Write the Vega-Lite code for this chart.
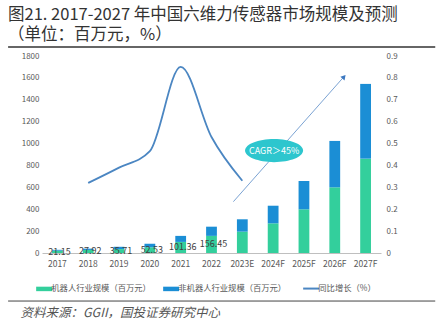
{
  "$schema": "https://vega.github.io/schema/vega-lite/v6.json",
  "width": 339,
  "height": 197,
  "autosize": {"type": "none"},
  "padding": {"left": 42, "top": 56, "right": 61, "bottom": 74},
  "background": "white",
  "title": {
    "text": "图21. 2017-2027 年中国六维力传感器市场规模及预测",
    "subtitle": "（单位：百万元，%）",
    "anchor": "start",
    "frame": "group",
    "dx": -34,
    "offset": 3,
    "fontSize": 16.5,
    "font": "Noto Sans CJK SC",
    "fontWeight": "normal",
    "color": "#333333",
    "subtitleFont": "Noto Sans CJK SC",
    "subtitleFontSize": 16.5,
    "subtitleColor": "#333333",
    "subtitlePadding": 3
  },
  "config": {
    "view": {"stroke": null},
    "font": "Noto Sans CJK SC",
    "axis": {"grid": false, "labelFont": "Noto Sans CJK SC", "labelColor": "#595959", "ticks": false, "labelOverlap": false}
  },
  "datasets": {
    "bars": [
      {"year": "2017", "series": "机器人行业规模（百万元）", "value": 21.15},
      {"year": "2018", "series": "机器人行业规模（百万元）", "value": 27.92},
      {"year": "2019", "series": "机器人行业规模（百万元）", "value": 35.71},
      {"year": "2020", "series": "机器人行业规模（百万元）", "value": 52.53},
      {"year": "2021", "series": "机器人行业规模（百万元）", "value": 101.36},
      {"year": "2022", "series": "机器人行业规模（百万元）", "value": 156.45},
      {"year": "2023E", "series": "机器人行业规模（百万元）", "value": 195},
      {"year": "2024F", "series": "机器人行业规模（百万元）", "value": 271},
      {"year": "2025F", "series": "机器人行业规模（百万元）", "value": 399},
      {"year": "2026F", "series": "机器人行业规模（百万元）", "value": 600},
      {"year": "2027F", "series": "机器人行业规模（百万元）", "value": 862},
      {"year": "2017", "series": "非机器人行业规模（百万元）", "value": 8},
      {"year": "2018", "series": "非机器人行业规模（百万元）", "value": 12},
      {"year": "2019", "series": "非机器人行业规模（百万元）", "value": 21},
      {"year": "2020", "series": "非机器人行业规模（百万元）", "value": 32},
      {"year": "2021", "series": "非机器人行业规模（百万元）", "value": 55},
      {"year": "2022", "series": "非机器人行业规模（百万元）", "value": 84},
      {"year": "2023E", "series": "非机器人行业规模（百万元）", "value": 113},
      {"year": "2024F", "series": "非机器人行业规模（百万元）", "value": 161},
      {"year": "2025F", "series": "非机器人行业规模（百万元）", "value": 259},
      {"year": "2026F", "series": "非机器人行业规模（百万元）", "value": 424},
      {"year": "2027F", "series": "非机器人行业规模（百万元）", "value": 683}
    ],
    "growth": [
      {"year": "2018", "growth": 0.32},
      {"year": "2019", "growth": 0.39},
      {"year": "2020", "growth": 0.465},
      {"year": "2021", "growth": 0.85},
      {"year": "2022", "growth": 0.53},
      {"year": "2023E", "growth": 0.33}
    ]
  },
  "layer": [
    {
      "layer": [
        {
          "layer": [
            {
              "data": {"name": "bars"},
              "mark": {"type": "bar"},
              "encoding": {
                "x": {
                  "field": "year", "type": "ordinal", "sort": null,
                  "scale": {"paddingInner": 0.65, "paddingOuter": 0.325},
                  "axis": {
                    "title": "资料来源：GGII，国投证券研究中心",
                    "titleFont": "Noto Sans CJK SC",
                    "titleFontStyle": "italic",
                    "titleFontWeight": "normal",
                    "titleFontSize": 12.5,
                    "titleColor": "#555555",
                    "titleX": -22,
                    "titleY": 59,
                    "titleAlign": "left",
                    "titleAnchor": "start",
                    "titleBaseline": "middle",
                    "labelAngle": 0,
                    "labelFontSize": 8.5,
                    "labelPadding": 6,
                    "domainColor": "#BFBFBF",
                    "domainWidth": 1
                  }
                },
                "y": {
                  "field": "value", "type": "quantitative", "stack": "zero",
                  "scale": {"domain": [0, 1800], "nice": false},
                  "axis": {
                    "title": null, "values": [0, 200, 400, 600, 800, 1000, 1200, 1400, 1600, 1800],
                    "format": "d", "domain": false, "labelFontSize": 8, "labelPadding": 3, "orient": "left",
                    "labelOverlap": false, "labelFlush": false
                  }
                },
                "order": {"field": "series", "type": "nominal", "sort": "ascending"},
                "color": {
                  "field": "series", "type": "nominal",
                  "scale": {
                    "domain": ["机器人行业规模（百万元）", "非机器人行业规模（百万元）", "同比增长（%）"],
                    "range": ["#33CF9C", "#1B8ED5", "#4B86C2"]
                  },
                  "legend": {
                    "title": null,
                    "orient": "none",
                    "direction": "horizontal",
                    "legendX": -2,
                    "legendY": 228,
                    "labelFont": "Noto Sans CJK SC",
                    "labelFontSize": 8.3,
                    "labelColor": "#595959",
                    "labelOffset": 3,
                    "columnPadding": 12,
                    "symbolSize": 256,
                    "encode": {
                      "symbols": {
                        "update": {
                          "shape": {"signal": "datum.index === 2 ? 'stroke' : 'M-1,-0.28H1V0.28H-1Z'"},
                          "fill": {"signal": "datum.index === 0 ? '#33CF9C' : datum.index === 1 ? '#1B8ED5' : 'transparent'"},
                          "stroke": {"signal": "datum.index === 2 ? '#4B86C2' : 'transparent'"},
                          "strokeWidth": {"signal": "datum.index === 2 ? 2 : 0"},
                          "opacity": {"value": 1}
                        }
                      }
                    }
                  }
                }
              }
            },
            {
              "data": {"name": "bars"},
              "transform": [
                {"filter": "datum.series === '机器人行业规模（百万元）' && datum.value < 160"},
                {"calculate": "datum.value / 2", "as": "mid"}
              ],
              "mark": {"type": "text", "fontSize": 9, "color": "#404040", "dx": 2, "baseline": "middle"},
              "encoding": {
                "x": {"field": "year", "type": "ordinal", "sort": null},
                "y": {
                  "field": "mid", "type": "quantitative",
                  "axis": {
                    "title": null, "values": [0, 200, 400, 600, 800, 1000, 1200, 1400, 1600, 1800],
                    "format": "d", "domain": false, "labelFontSize": 8, "labelPadding": 3, "orient": "left",
                    "labelOverlap": false, "labelFlush": false
                  }
                },
                "text": {"field": "value", "type": "quantitative", "format": ".2f"}
              }
            }
          ]
        },
        {
          "data": {"name": "growth"},
          "mark": {"type": "line", "interpolate": "monotone", "strokeWidth": 1.8},
          "encoding": {
            "x": {"field": "year", "type": "ordinal", "sort": null},
            "y": {
              "field": "growth", "type": "quantitative",
              "scale": {"domain": [0, 0.9], "nice": false},
              "axis": {
                "title": null, "orient": "right", "values": [0, 0.1, 0.2, 0.3, 0.4, 0.5, 0.6, 0.7, 0.8, 0.9],
                "format": ".1~f", "domain": false, "labelFontSize": 8, "labelPadding": 5
              }
            },
            "color": {"datum": "同比增长（%）", "type": "nominal"}
          }
        }
      ],
      "resolve": {"scale": {"y": "independent"}}
    },
    {
      "data": {"values": [{}]},
      "layer": [
        {
          "mark": {"type": "rule", "color": "#333333", "strokeWidth": 1.5, "clip": false},
          "encoding": {
            "x": {"datum": -1.1, "type": "quantitative", "scale": {"domain": [0, 11], "nice": false, "zero": false}, "axis": null},
            "x2": {"datum": 12.76},
            "y": {"datum": 1883, "type": "quantitative", "scale": {"domain": [0, 1800], "nice": false}, "axis": null},
            "y2": {"datum": 1883}
          }
        },
        {
          "mark": {"type": "rule", "color": "#444444", "strokeWidth": 1, "clip": false},
          "encoding": {
            "x": {"datum": -1.1, "type": "quantitative"},
            "x2": {"datum": 12.76},
            "y": {"datum": -439, "type": "quantitative"},
            "y2": {"datum": -439}
          }
        },
        {
          "mark": {"type": "rule", "color": "#7BA3D3", "strokeWidth": 1},
          "encoding": {
            "x": {"datum": 6.21, "type": "quantitative"},
            "x2": {"datum": 9.78},
            "y": {"datum": 469, "type": "quantitative"},
            "y2": {"datum": 1605}
          }
        },
        {
          "mark": {"type": "point", "shape": "triangle-up", "filled": true, "color": "#3C78C0", "size": 30, "angle": 41.5, "opacity": 1},
          "encoding": {
            "x": {"datum": 9.8, "type": "quantitative"},
            "y": {"datum": 1610, "type": "quantitative"}
          }
        },
        {
          "mark": {"type": "point", "shape": "M-1,0A1,0.4 0 1,0 1,0A1,0.4 0 1,0 -1,0Z", "filled": true, "color": "#2DC6CE", "size": 3364, "opacity": 1},
          "encoding": {
            "x": {"datum": 7.53, "type": "quantitative"},
            "y": {"datum": 936, "type": "quantitative"}
          }
        },
        {
          "mark": {"type": "text", "color": "white", "fontSize": 9, "font": "Noto Sans CJK SC", "baseline": "middle", "align": "center"},
          "encoding": {
            "x": {"datum": 7.53, "type": "quantitative"},
            "y": {"datum": 936, "type": "quantitative"},
            "text": {"value": "CAGR＞45%"}
          }
        }
      ]
    }
  ],
  "resolve": {"scale": {"x": "independent", "y": "independent"}}
}
